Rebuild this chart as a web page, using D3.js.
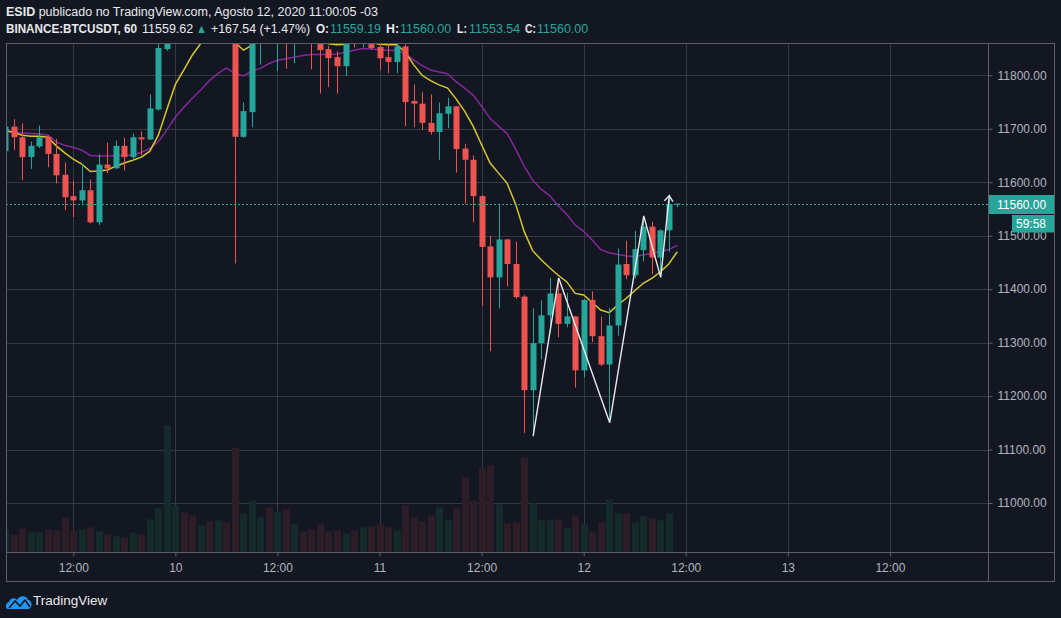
<!DOCTYPE html>
<html>
<head>
<meta charset="utf-8">
<script src="https://cdn.jsdelivr.net/npm/d3@7"></script>
<style>
  body { margin: 0; background: #131722; }
  svg { display: block; font-family: "Liberation Sans", Arial, sans-serif; }
</style>
</head>
<body>
<div id="chart"></div>
<script>
// BINANCE:BTCUSDT 60 min, first candle = Aug 9 2020 04:00 (-03)
const startTime = new Date(2020, 7, 9, 4, 0);

const opens = [11658, 11704, 11684, 11647, 11667, 11685, 11653, 11614, 11574, 11566,
  11585, 11525, 11633, 11626, 11668, 11647, 11684, 11680, 11736, 11849,
  11975, 12020, 11998, 11972, 11995, 11962, 11985, 11955, 11685, 11731,
  11885, 11920, 11895, 11930, 11890, 11905, 11880, 11870, 11849, 11834,
  11817, 11872, 11866, 11880, 11853, 11834, 11825, 11854, 11752, 11747,
  11711, 11694, 11728, 11742, 11663, 11642, 11574, 11480, 11422, 11493,
  11447, 11386, 11211, 11299, 11351, 11392, 11335, 11349, 11248, 11380,
  11312, 11259, 11332, 11447, 11426, 11473, 11517, 11459, 11510, 11559.19];
const highs = [11712, 11718, 11710, 11676, 11706, 11688, 11681, 11637, 11603, 11635,
  11605, 11652, 11674, 11678, 11683, 11691, 11695, 11764, 11860, 11990,
  12040, 12050, 12020, 12010, 12005, 12000, 12000, 11965, 11749, 11900,
  11935, 11945, 11960, 11940, 11925, 11915, 11895, 11880, 11855, 11845,
  11880, 11890, 11895, 11890, 11862, 11862, 11862, 11858, 11783, 11769,
  11764, 11749, 11758, 11743, 11672, 11650, 11576, 11500, 11560, 11494,
  11489, 11389, 11364, 11379, 11421, 11421, 11393, 11350, 11381, 11396,
  11349, 11365, 11476, 11490, 11509, 11537, 11526, 11512, 11576, 11560];
const lows = [11650, 11660, 11604, 11625, 11664, 11628, 11598, 11548, 11535, 11560,
  11523, 11520, 11617, 11625, 11622, 11640, 11651, 11679, 11734, 11846,
  11955, 11985, 11960, 11950, 11950, 11940, 11945, 11448, 11683, 11703,
  11820, 11880, 11808, 11812, 11823, 11870, 11811, 11766, 11778, 11766,
  11799, 11852, 11852, 11848, 11810, 11804, 11804, 11705, 11703, 11698,
  11689, 11642, 11701, 11618, 11560, 11525, 11369, 11284, 11364, 11405,
  11382, 11131, 11125, 11269, 11319, 11310, 11329, 11216, 11235, 11301,
  11256, 11150, 11313, 11419, 11420, 11452, 11428, 11423, 11470, 11553.54];
const closes = [11704, 11684, 11647, 11668, 11684, 11653, 11613, 11572, 11566, 11585,
  11525, 11633, 11626, 11668, 11647, 11684, 11680, 11738, 11851, 11975,
  12020, 11998, 11972, 11995, 11962, 11985, 11955, 11685, 11733, 11885,
  11920, 11895, 11930, 11890, 11905, 11880, 11870, 11847, 11832, 11817,
  11872, 11866, 11880, 11851, 11832, 11825, 11854, 11750, 11747, 11711,
  11694, 11729, 11742, 11662, 11642, 11574, 11479, 11422, 11493, 11447,
  11385, 11211, 11299, 11351, 11392, 11335, 11349, 11248, 11380, 11312,
  11259, 11332, 11446, 11426, 11475, 11517, 11459, 11510, 11559.19, 11560];
const volumes = [2200, 1770, 2370, 1970, 1970, 2240, 2170, 3440, 2170, 2270,
  2470, 2070, 1770, 1570, 1470, 1940, 1770, 3270, 4370, 12670,
  4670, 3970, 3670, 2670, 3070, 3170, 2970, 10440, 3870, 5170,
  3470, 4470, 4000, 4270, 2770, 2070, 2270, 2870, 2070, 2170,
  1870, 2170, 2470, 2570, 2770, 2470, 2170, 4670, 3470, 3070,
  3670, 4470, 3170, 4470, 7470, 5170, 8470, 8670, 4770, 2870,
  2970, 9470, 4870, 3170, 3170, 3270, 2400, 3670, 2770, 2070,
  2970, 5270, 3870, 3870, 2970, 3570, 3370, 3170, 3870, 40];
// moving averages as drawn on the chart
const maFast = [11697, 11693, 11688, 11686, 11686, 11684, 11668, 11655, 11643, 11634,
  11620, 11621, 11623, 11630, 11636, 11641, 11647, 11658, 11688, 11736,
  11783, 11810, 11838, 11860, 11878, 11888, 11892, 11862, 11847, 11856,
  11868, 11876, 11882, 11882, 11880, 11876, 11870, 11865, 11859, 11857,
  11858, 11863, 11864, 11862, 11858, 11857, 11857, 11844, 11820, 11800,
  11790, 11782, 11776, 11756, 11733, 11705, 11670, 11636, 11617, 11598,
  11559, 11508, 11472, 11455, 11440, 11426, 11414, 11392, 11389, 11375,
  11361, 11356, 11370, 11383, 11397, 11411, 11420, 11432, 11447, 11470];
const maSlow = [11695, 11694, 11692, 11691, 11690, 11688, 11675, 11669, 11665, 11660,
  11650, 11649, 11649, 11650, 11650, 11651, 11656, 11663, 11676, 11698,
  11722, 11740, 11757, 11773, 11790, 11803, 11814, 11803, 11799, 11808,
  11813, 11822, 11828, 11831, 11834, 11837, 11839, 11839, 11839, 11840,
  11843, 11847, 11850, 11849, 11848, 11847, 11846, 11841, 11829, 11818,
  11810, 11806, 11803, 11788, 11776, 11763, 11742, 11719, 11705, 11691,
  11662, 11630, 11604, 11587, 11575, 11556, 11540, 11520, 11508, 11492,
  11474, 11468, 11465, 11462, 11461, 11464, 11467, 11470, 11474, 11482];

// hand drawn zigzag: [candle index, price]
const drawIdx = [62, 65, 71, 75, 77, 78];
const drawPrice = [11125, 11421, 11150, 11537, 11422, 11575];

const priceTicks = [11000, 11100, 11200, 11300, 11400, 11500, 11600, 11700, 11800];
const timeTicks = ["2020-08-09 12:00", "2020-08-10 00:00", "2020-08-10 12:00", "2020-08-11 00:00",
  "2020-08-11 12:00", "2020-08-12 00:00", "2020-08-12 12:00", "2020-08-13 00:00", "2020-08-13 12:00"];

const lastPrice = 11559.62, change = 167.54, changePct = 1.47;
const countdown = "59:58";

const W = 1061, H = 618;
const L = 6, R = 988, T = 43, B = 552, FR = 1054, FB = 581;
const UP = "#26a69a", DOWN = "#ef5350";
const TXT = "#b2b5be";

const parse = d3.timeParse("%Y-%m-%d %H:%M");
const times = opens.map((d, i) => d3.timeHour.offset(startTime, i));
const candles = times.map((t, i) => ({t, o: opens[i], h: highs[i], l: lows[i], c: closes[i], v: volumes[i]}));

const x = d3.scaleTime()
  .domain([new Date(2020, 7, 9, 4, 0), new Date(2020, 7, 14, 0, 0)])
  .range([5.24, 992]);
const y = d3.scaleLinear().domain([11000, 11800]).range([503, 75.3]);
const yv = d3.scaleLinear().domain([0, d3.max(volumes)]).range([B, 425.3]);

const svg = d3.select("#chart").append("svg").attr("width", W).attr("height", H);
svg.append("rect").attr("width", W).attr("height", H).attr("fill", "#131722");

svg.append("clipPath").attr("id", "plot")
  .append("rect").attr("x", L).attr("y", T).attr("width", R - L).attr("height", B - T);

// grid
const grid = svg.append("g").attr("stroke", "#353945").attr("stroke-width", 1);
grid.selectAll(".hg").data(priceTicks).enter().append("line")
  .attr("x1", L).attr("x2", R)
  .attr("y1", d => Math.round(y(d)) + 0.5).attr("y2", d => Math.round(y(d)) + 0.5);
grid.selectAll(".vg").data(timeTicks.map(parse)).enter().append("line")
  .attr("y1", T).attr("y2", B)
  .attr("x1", d => Math.round(x(d)) + 0.5).attr("x2", d => Math.round(x(d)) + 0.5);

const plot = svg.append("g").attr("clip-path", "url(#plot)");

// volume
plot.selectAll(".vol").data(candles).enter().append("rect")
  .attr("x", d => Math.round(x(d.t)) - 3)
  .attr("y", d => yv(d.v))
  .attr("width", 7)
  .attr("height", d => B - yv(d.v))
  .attr("fill", d => d.c >= d.o ? "#152b2b" : "#2d1d27");

// moving averages
const line = d3.line().x((d, i) => x(times[i])).y(d => y(d));
plot.append("path").datum(maSlow).attr("d", line)
  .attr("fill", "none").attr("stroke", "#85279a").attr("stroke-width", 1.5);
plot.append("path").datum(maFast).attr("d", line)
  .attr("fill", "none").attr("stroke", "#d9c62b").attr("stroke-width", 1.5);

// candles
const cg = plot.selectAll(".candle").data(candles).enter().append("g");
cg.append("line")
  .attr("x1", d => Math.round(x(d.t)) + 0.5).attr("x2", d => Math.round(x(d.t)) + 0.5)
  .attr("y1", d => y(d.h)).attr("y2", d => y(d.l))
  .attr("stroke", d => d.c >= d.o ? UP : DOWN);
cg.append("rect")
  .attr("x", d => Math.round(x(d.t)) - 2.5)
  .attr("width", 6)
  .attr("y", d => y(Math.max(d.o, d.c)))
  .attr("height", d => Math.max(1, Math.abs(y(d.o) - y(d.c))))
  .attr("fill", d => d.c >= d.o ? UP : DOWN);

// zigzag drawing with arrow head
const pts = drawIdx.map((k, i) => [x(times[k]) + 0.5, y(drawPrice[i])]);
plot.append("path").attr("d", d3.line()(pts))
  .attr("fill", "none").attr("stroke", "#e8eaed").attr("stroke-width", 1.4);
const [p1, p2] = pts.slice(-2);
const ang = Math.atan2(p2[1] - p1[1], p2[0] - p1[0]);
const head = [-1, 1].map(s => [p2[0] - 7 * Math.cos(ang + s * 0.65), p2[1] - 7 * Math.sin(ang + s * 0.65)]);
plot.append("path").attr("d", d3.line()([head[0], p2, head[1]]))
  .attr("fill", "none").attr("stroke", "#e8eaed").attr("stroke-width", 1.4);

// last price line
const lastY = Math.round(y(closes[closes.length - 1])) + 0.5;
svg.append("line").attr("x1", L).attr("x2", R).attr("y1", lastY).attr("y2", lastY)
  .attr("stroke", UP).attr("stroke-dasharray", "2,2");

// frame
const frame = svg.append("g").attr("stroke", "#5d606b").attr("stroke-width", 1).attr("fill", "none");
frame.append("rect").attr("x", L + 0.5).attr("y", T + 0.5).attr("width", FR - L).attr("height", FB - T);
frame.append("line").attr("x1", R + 0.5).attr("x2", R + 0.5).attr("y1", T).attr("y2", FB);
frame.append("line").attr("x1", L).attr("x2", FR).attr("y1", B + 0.5).attr("y2", B + 0.5);

// price axis
const yAxis = svg.append("g").attr("transform", `translate(${R + 0.5},0)`)
  .call(d3.axisRight(y).tickValues(priceTicks).tickFormat(d3.format(".2f")).tickSize(4).tickPadding(5));
yAxis.select(".domain").remove();
yAxis.selectAll("line").attr("stroke", "#5d606b");
yAxis.selectAll("text").attr("fill", TXT).attr("font-size", 12).attr("font-family", "Liberation Sans, Arial, sans-serif");

// time axis
const xAxis = svg.append("g").attr("transform", `translate(0,${B + 0.5})`)
  .call(d3.axisBottom(x).tickValues(timeTicks.map(parse))
    .tickFormat(d => d.getHours() === 0 ? d3.timeFormat("%-d")(d) : d3.timeFormat("%H:%M")(d))
    .tickSize(4).tickPadding(7));
xAxis.select(".domain").remove();
xAxis.selectAll("line").attr("stroke", "#5d606b");
xAxis.selectAll("text").attr("fill", TXT).attr("font-size", 12).attr("font-family", "Liberation Sans, Arial, sans-serif");

// last price label + countdown
const lp = svg.append("g");
lp.append("rect").attr("x", R + 1).attr("y", lastY - 9.5).attr("width", FR - R - 1).attr("height", 19).attr("fill", UP);
lp.append("text").attr("x", R + 9).attr("y", lastY).attr("dy", "0.35em")
  .attr("fill", "#fff").attr("font-size", 12).text(d3.format(".2f")(closes[closes.length - 1]));
lp.append("rect").attr("x", 1012).attr("y", lastY + 10.5).attr("width", FR - 1012).attr("height", 17.5).attr("fill", UP);
lp.append("text").attr("x", 1016).attr("y", lastY + 19.3).attr("dy", "0.35em")
  .attr("fill", "#fff").attr("font-size", 12).text(countdown);

// header
const f2 = d3.format(".2f");
const n = closes.length - 1;
const hdr = svg.append("g").attr("fill", "#e8eaed").attr("font-size", 12.5);
const t1 = hdr.append("text").attr("x", 6).attr("y", 16);
t1.append("tspan").attr("font-weight", "bold").text("ESID");
t1.append("tspan").text(" publicado no TradingView.com, Agosto 12, 2020 11:00:05 -03");

const line2 = [
  {x: 6, w: 131, t: "BINANCE:BTCUSDT, 60", b: true},
  {x: 142, w: 52, t: f2(lastPrice)},
  {x: 196, w: 11, t: "\u25B2", c: UP},
  {x: 211, w: 99, t: `+${f2(change)} (+${f2(changePct)}%)`},
  {x: 316, w: 13, t: "O:", b: true}, {x: 330, w: 51, t: f2(opens[n]), c: UP},
  {x: 386, w: 13, t: "H:", b: true}, {x: 400, w: 52, t: f2(highs[n]), c: UP},
  {x: 457, w: 10, t: "L:", b: true}, {x: 469, w: 52, t: f2(lows[n]), c: UP},
  {x: 525, w: 11, t: "C:", b: true}, {x: 537, w: 52, t: f2(closes[n]), c: UP}
];
hdr.selectAll(".h2").data(line2).enter().append("text")
  .attr("x", d => d.x).attr("y", 33)
  .attr("font-weight", d => d.b ? "bold" : "normal")
  .attr("fill", d => d.c || "#e8eaed")
  .text(d => d.t)
  .each(function(d) {
    if (this.getComputedTextLength() > d.w) {
      d3.select(this).attr("textLength", d.w).attr("lengthAdjust", "spacingAndGlyphs");
    }
  });

// logo
const logo = svg.append("g").attr("transform", "translate(6,595)");
logo.append("path")
  .attr("d", "M2,14 C-1,14 -1,8 3,7 C4,3 9,2 11,5 C13,0 21,0 22,5 C26,5 27,12 23,14 Z")
  .attr("fill", "#2196f3");
logo.append("path").attr("d", "M3,13 L9,6 L14,11 L19,5 L24,12")
  .attr("fill", "none").attr("stroke", "#131722").attr("stroke-width", 1.6);
svg.append("text").attr("x", 33).attr("y", 605).attr("fill", "#e8eaed")
  .attr("font-size", 13.5).text("TradingView");
</script>
</body>
</html>
